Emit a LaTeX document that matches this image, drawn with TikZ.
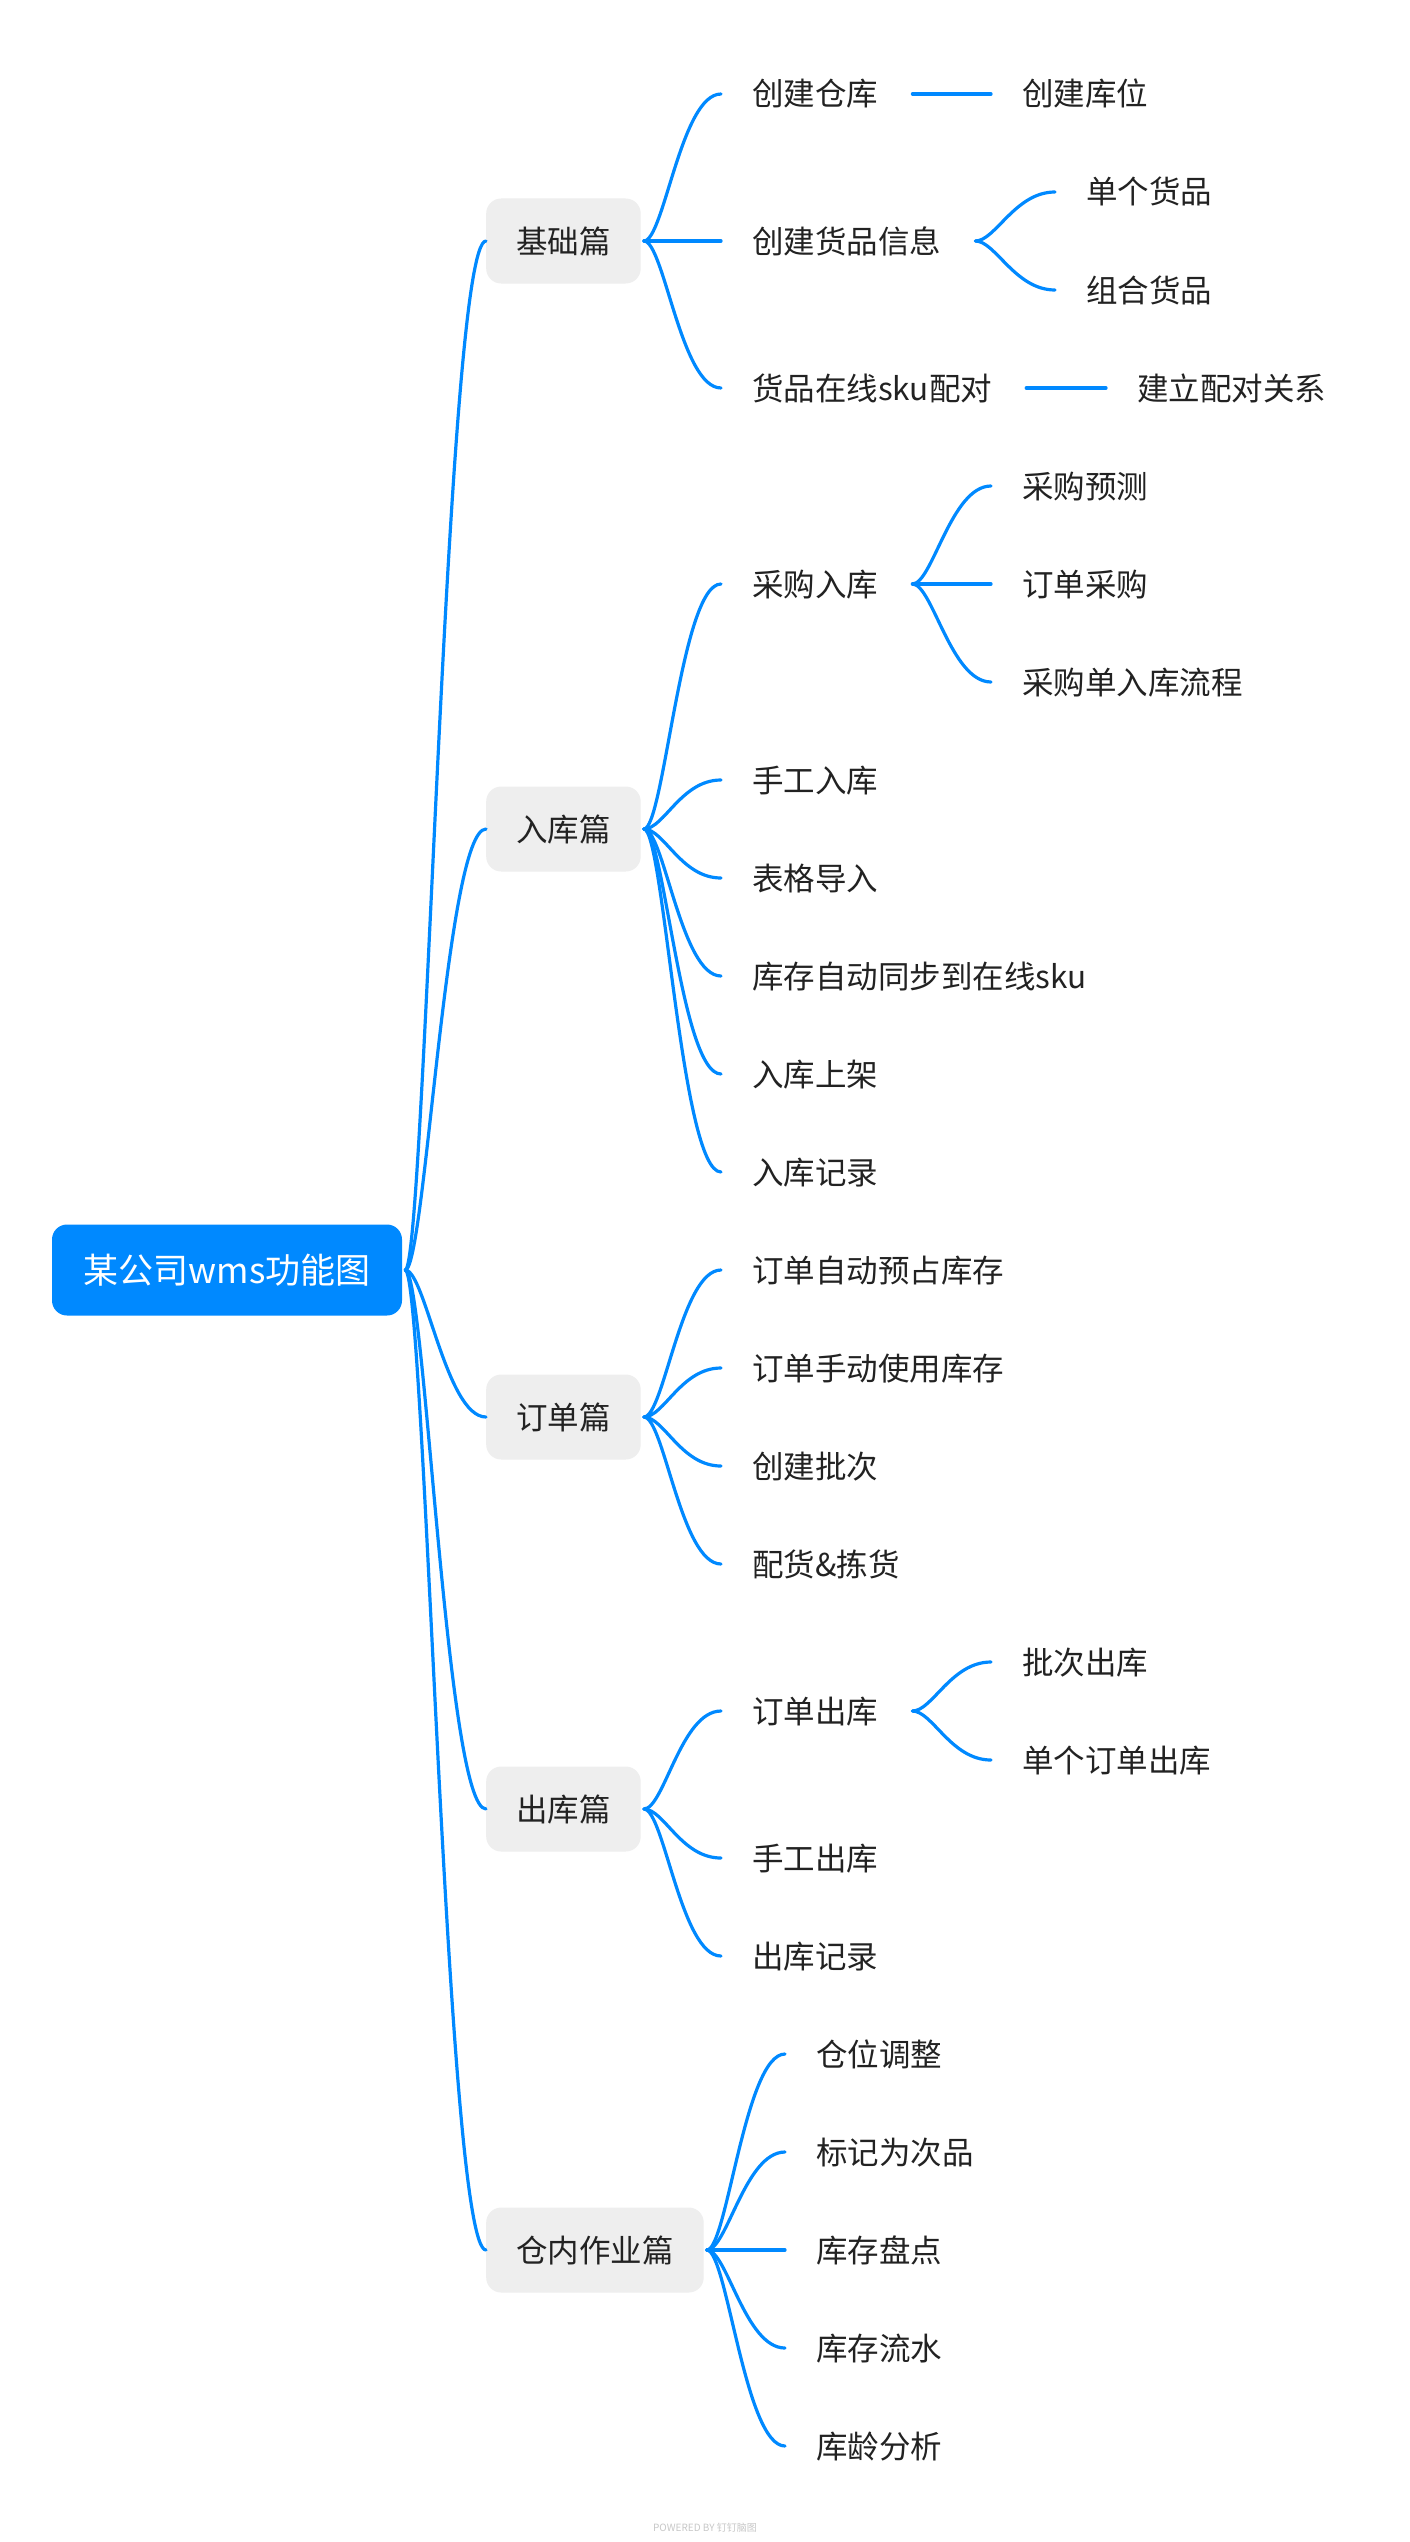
\documentclass[tikz,border=0pt]{standalone}
\usepackage{fontspec}
\newfontfamily\cjk{Noto Sans CJK SC}
\definecolor{mmblue}{HTML}{0089FF}
\definecolor{mmgray}{HTML}{EEEEEE}
\definecolor{mmtext}{HTML}{222222}
\definecolor{mmfoot}{HTML}{C8C8C8}
\tikzset{
  rootbox/.style={fill=mmblue, rounded corners=15pt, text=white, minimum width=350pt, minimum height=91pt, inner sep=0pt, font=\cjk\fontsize{35}{42}\selectfont, text height=31pt, text depth=4pt},
  topicbox/.style={fill=mmgray, rounded corners=15pt, text=mmtext, inner xsep=30pt, inner ysep=0pt, minimum height=85pt, anchor=west, font=\cjk\fontsize{31.5}{38}\selectfont, text height=28pt, text depth=4pt},
  leaf/.style={text=mmtext, inner xsep=31pt, inner ysep=0pt, anchor=west, font=\cjk\fontsize{31.5}{38}\selectfont, text height=28pt, text depth=4pt},
  link/.style={draw=mmblue, line width=3.2pt, line cap=round},
  footer/.style={text=mmfoot, inner sep=0pt, font=\cjk\fontsize{10}{12}\selectfont},
}
\newcommand\mmlink[2]{\draw[link] ([xshift=3pt]#1.east) .. controls +(20,0) and +(-40,0) .. (#2.west);}
\begin{document}
\begin{tikzpicture}[x=1pt,y=-1pt]
\fill[white] (0,0) rectangle (1410,2542);
\useasboundingbox (0,0) rectangle (1410,2542);

% root
\node[rootbox] (root) at (227,1270) {某公司wms功能图};

% level 1
\node[topicbox] (jc) at (486,241) {基础篇};
\node[topicbox] (rk) at (486,829) {入库篇};
\node[topicbox] (dd) at (486,1417) {订单篇};
\node[topicbox] (ck) at (486,1809) {出库篇};
\node[topicbox] (cn) at (486,2250) {仓内作业篇};

% level 2
\node[leaf] (jc1) at (721,94) {创建仓库};
\node[leaf] (jc2) at (721,241) {创建货品信息};
\node[leaf] (jc3) at (721,388) {货品在线sku配对};
\node[leaf] (rk1) at (721,584) {采购入库};
\node[leaf] (rk2) at (721,780) {手工入库};
\node[leaf] (rk3) at (721,878) {表格导入};
\node[leaf] (rk4) at (721,976) {库存自动同步到在线sku};
\node[leaf] (rk5) at (721,1074) {入库上架};
\node[leaf] (rk6) at (721,1172) {入库记录};
\node[leaf] (dd1) at (721,1270) {订单自动预占库存};
\node[leaf] (dd2) at (721,1368) {订单手动使用库存};
\node[leaf] (dd3) at (721,1466) {创建批次};
\node[leaf] (dd4) at (721,1564) {配货\&拣货};
\node[leaf] (ck1) at (721,1711) {订单出库};
\node[leaf] (ck2) at (721,1858) {手工出库};
\node[leaf] (ck3) at (721,1956) {出库记录};
\node[leaf] (cn1) at (785,2054) {仓位调整};
\node[leaf] (cn2) at (785,2152) {标记为次品};
\node[leaf] (cn3) at (785,2250) {库存盘点};
\node[leaf] (cn4) at (785,2348) {库存流水};
\node[leaf] (cn5) at (785,2446) {库龄分析};

% level 3
\node[leaf] (jc1a) at (991,94) {创建库位};
\node[leaf] (jc2a) at (1055,192) {单个货品};
\node[leaf] (jc2b) at (1055,290) {组合货品};
\node[leaf] (jc3a) at (1106,388) {建立配对关系};
\node[leaf] (rk1a) at (991,486) {采购预测};
\node[leaf] (rk1b) at (991,584) {订单采购};
\node[leaf] (rk1c) at (991,682) {采购单入库流程};
\node[leaf] (ck1a) at (991,1662) {批次出库};
\node[leaf] (ck1b) at (991,1760) {单个订单出库};

% connectors
\foreach \c in {jc,rk,dd,ck,cn} {\mmlink{root}{\c}}
\foreach \c in {jc1,jc2,jc3} {\mmlink{jc}{\c}}
\foreach \c in {rk1,rk2,rk3,rk4,rk5,rk6} {\mmlink{rk}{\c}}
\foreach \c in {dd1,dd2,dd3,dd4} {\mmlink{dd}{\c}}
\foreach \c in {ck1,ck2,ck3} {\mmlink{ck}{\c}}
\foreach \c in {cn1,cn2,cn3,cn4,cn5} {\mmlink{cn}{\c}}
\mmlink{jc1}{jc1a}
\mmlink{jc2}{jc2a}
\mmlink{jc2}{jc2b}
\mmlink{jc3}{jc3a}
\foreach \c in {rk1a,rk1b,rk1c} {\mmlink{rk1}{\c}}
\foreach \c in {ck1a,ck1b} {\mmlink{ck1}{\c}}

% footer
\node[footer] (foot) at (705,2528) {POWERED BY 钉钉脑图};
\end{tikzpicture}
\end{document}
